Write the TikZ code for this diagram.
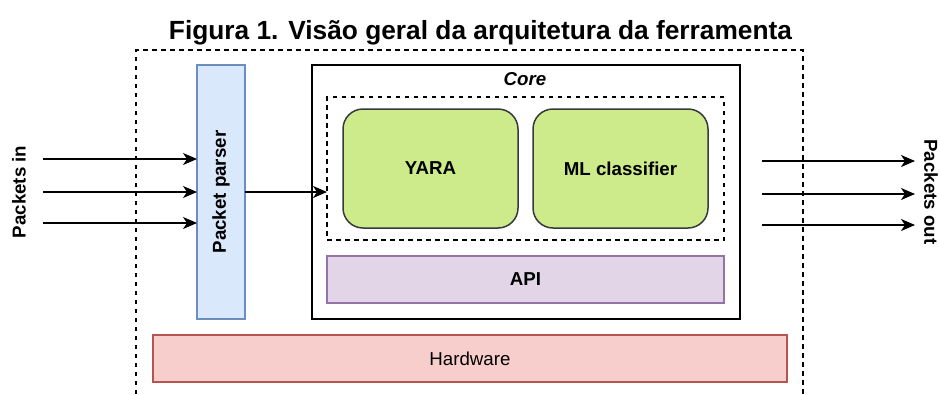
\documentclass[tikz,border=0pt]{standalone}
\usepackage{fontspec}
\setmainfont{Liberation Sans}
\usetikzlibrary{arrows.meta}
\definecolor{parserfill}{HTML}{DAE8FC}
\definecolor{parserline}{HTML}{6C8EBF}
\definecolor{greenfill}{HTML}{CDEB8B}
\definecolor{greenline}{HTML}{36393D}
\definecolor{apifill}{HTML}{E1D5E7}
\definecolor{apiline}{HTML}{9673A6}
\definecolor{hwfill}{HTML}{F8CECC}
\definecolor{hwline}{HTML}{B85450}
\tikzset{
  lbl/.style={font=\fontsize{18.7}{22}\selectfont\bfseries},
  box/.style={rectangle, line width=1.5pt, inner sep=0pt, outer sep=0pt},
  dashbox/.style={box, draw=black, dash pattern=on 4.5pt off 4.5pt, line width=1.3pt},
  arr/.style={line width=1.5pt, -{Stealth[length=14pt,width=12pt,inset=4pt]}},
}
\begin{document}
\begin{tikzpicture}[x=1pt,y=-1pt]
\useasboundingbox (0,0) rectangle (940,394);
% title
\node[font=\fontsize{26.3}{30}\selectfont\bfseries, anchor=base] (title) at (480.5,39.5) {Figura 1. Visão geral da arquitetura da ferramenta};
% outer dashed frame (open at bottom)
\coordinate (ol) at (136,394);
\coordinate (otl) at (136,50);
\coordinate (otr) at (803,50);
\coordinate (or) at (803,394);
\draw[line width=1.3pt, dash pattern=on 4.5pt off 4.5pt] (ol) -- (otl) -- (otr) -- (or);
% packet parser
\node[box, draw=parserline, fill=parserfill, minimum width=48pt, minimum height=254pt] (parser) at (221,192) {};
\node[lbl, rotate=90] (parsertext) at (parser.center) {Packet parser};
% core
\node[box, draw=black, fill=white, minimum width=428pt, minimum height=254pt] (core) at (526,192) {};
\node[font=\fontsize{18.7}{22}\selectfont\bfseries\itshape] (coretext) at (525,79) {Core};
\node[dashbox, minimum width=397pt, minimum height=143pt] (inner) at (525.5,168.5) {};
\node[box, lbl, draw=greenline, fill=greenfill, rounded corners=20pt, minimum width=175pt, minimum height=119pt] (yara) at (430.5,168.5) {YARA};
\node[box, lbl, draw=greenline, fill=greenfill, rounded corners=20pt, minimum width=175pt, minimum height=119pt] (ml) at (620.5,168.5) {ML classifier};
\node[box, lbl, draw=apiline, fill=apifill, minimum width=397pt, minimum height=47pt] (api) at (525.5,279.5) {API};
% hardware
\node[box, draw=hwline, fill=hwfill, minimum width=634pt, minimum height=47pt, font=\fontsize{18.7}{22}\selectfont] (hw) at (470,358.5) {Hardware};
% input arrows
\coordinate (in1) at (43,159);
\coordinate (in2) at (43,192);
\coordinate (in3) at (43,223);
\draw[arr] (in1) -- (in1 -| parser.west);
\draw[arr] (in2) -- (in2 -| parser.west);
\draw[arr] (in3) -- (in3 -| parser.west);
\draw[arr] (parser.east) -- (parser.east -| inner.west);
% output arrows
\coordinate (o1s) at (762,161);
\coordinate (o1e) at (915,161);
\coordinate (o2s) at (762,194);
\coordinate (o2e) at (915,194);
\coordinate (o3s) at (762,225);
\coordinate (o3e) at (915,225);
\draw[arr] (o1s) -- (o1e);
\draw[arr] (o2s) -- (o2e);
\draw[arr] (o3s) -- (o3e);
% side labels
\node[lbl, rotate=90] (pin) at (19,192) {Packets in};
\node[lbl, rotate=-90] (pout) at (931,192) {Packets out};
\end{tikzpicture}
\end{document}
